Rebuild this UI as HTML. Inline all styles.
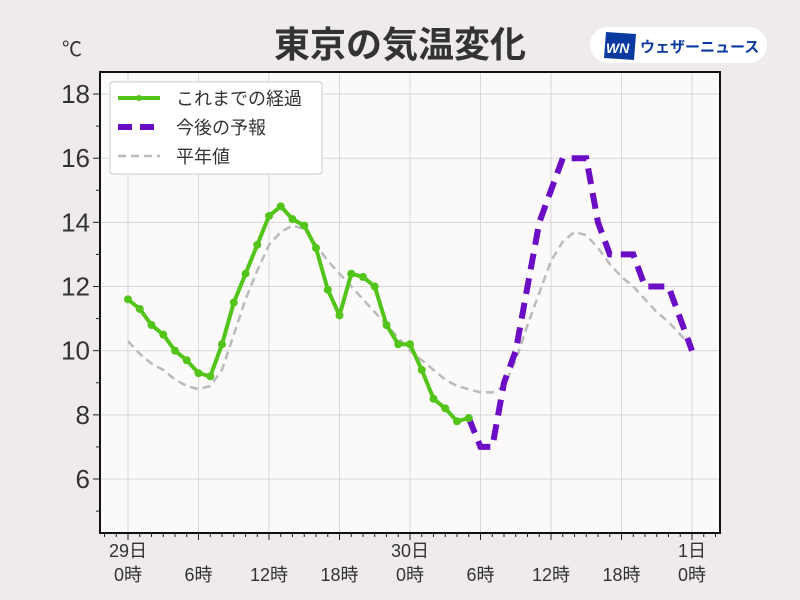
<!DOCTYPE html>
<html><head><meta charset="utf-8"><style>
body{margin:0;width:800px;height:600px;background:#eeebea;overflow:hidden}
svg{display:block}
text{font-family:"Liberation Sans","Noto Sans CJK JP",sans-serif;fill:#333}
</style></head><body>
<svg id="s" width="800" height="600" xmlns="http://www.w3.org/2000/svg">
<rect x="100" y="72" width="620" height="461" fill="#fbf9fa"/>
<g id="grid" stroke="#d8d8d8" stroke-width="1"></g>
<g id="ticks" stroke="#222" stroke-width="1"></g>
<g id="series"></g>
<rect x="100" y="72" width="620" height="461" fill="none" stroke="#111" stroke-width="2"/>
<text x="400" y="57" font-size="36" font-weight="bold" text-anchor="middle" fill="#333">東京の気温変化</text>
<text x="62" y="56" font-size="20">℃</text>
<rect x="590" y="27" width="177" height="36" rx="18" fill="#fff"/>
<polygon points="606,32 636,34 634,60 604,58" fill="#0a3aa0"/>
<text x="606" y="53" font-size="14" font-weight="bold" font-style="italic" style="fill:#fff">WN</text>
<text x="640" y="52" font-size="15" font-weight="bold" style="fill:#0a3aa0">ウェザーニュース</text>
<rect x="110" y="82" width="212" height="92" rx="3" fill="#fff" stroke="#ccc"/>
<line x1="118" y1="98" x2="160" y2="98" stroke="#52c41a" stroke-width="4"/>
<circle cx="139" cy="98" r="3" fill="#52c41a"/>
<line x1="118" y1="127" x2="160" y2="127" stroke="#6a0dc4" stroke-width="6" stroke-dasharray="14,8"/>
<line x1="118" y1="156" x2="160" y2="156" stroke="#bbb" stroke-width="2.5" stroke-dasharray="8,5"/>
<text x="176" y="105" font-size="18">これまでの経過</text>
<text x="176" y="134" font-size="18">今後の予報</text>
<text x="176" y="163" font-size="18">平年値</text>
<g id="labels" font-size="18"></g>
</svg>
<script>
const NS="http://www.w3.org/2000/svg";
const X=h=>128+h*11.75, Y=v=>479-(v-6)*32.08;
function el(p,t,a,txt){const e=document.createElementNS(NS,t);for(const k in a)e.setAttribute(k,a[k]);if(txt!==undefined)e.textContent=txt;document.getElementById(p).appendChild(e);return e;}
for(let v=6;v<=18;v+=2){el('grid','line',{x1:100,x2:720,y1:Y(v),y2:Y(v)});el('ticks','line',{x1:93,x2:100,y1:Y(v),y2:Y(v)});el('labels','text',{x:90,y:Y(v)+9,'text-anchor':'end','font-size':26},v);}
for(let v=5;v<=19;v+=2){if(Y(v)>72&&Y(v)<533)el('ticks','line',{x1:96,x2:100,y1:Y(v),y2:Y(v)});}
for(let h=-2;h<=50;h++){const x=X(h);if(x<100||x>720)continue;if(h%6==0){el('grid','line',{x1:x,x2:x,y1:72,y2:533});el('ticks','line',{x1:x,x2:x,y1:533,y2:540});}else el('ticks','line',{x1:x,x2:x,y1:533,y2:537});}
const lab=[[0,"29日","0時"],[6,"","6時"],[12,"","12時"],[18,"","18時"],[24,"30日","0時"],[30,"","6時"],[36,"","12時"],[42,"","18時"],[48,"1日","0時"]];
lab.forEach(([h,a,b])=>{if(a)el('labels','text',{x:X(h),y:557,'text-anchor':'middle'},a);el('labels','text',{x:X(h),y:581,'text-anchor':'middle'},b);});
const nrm=[10.3,9.9,9.6,9.4,9.1,8.9,8.8,8.9,9.4,10.5,11.6,12.5,13.3,13.7,13.9,13.8,13.3,12.8,12.4,12.0,11.6,11.2,10.8,10.4,10.0,9.7,9.4,9.1,8.9,8.8,8.7,8.7,8.9,9.7,10.8,11.8,12.8,13.4,13.7,13.6,13.2,12.7,12.3,12.0,11.6,11.2,10.9,10.5,10.1];
const obs=[11.6,11.3,10.8,10.5,10.0,9.7,9.3,9.2,10.2,11.5,12.4,13.3,14.2,14.5,14.1,13.9,13.2,11.9,11.1,12.4,12.3,12.0,10.8,10.2,10.2,9.4,8.5,8.2,7.8,7.9];
const fc=[[29,7.9],[30,7],[31,7],[32,9],[33,10],[34,12],[35,14],[36,15],[37,16],[38,16],[39,16],[40,14],[41,13],[42,13],[43,13],[44,12],[45,12],[46,12],[47,11],[48,10]];
const pts=a=>a.map(([h,v])=>X(h).toFixed(1)+","+Y(v).toFixed(1)).join(" ");
el('series','polyline',{points:pts(nrm.map((v,i)=>[i,v])),fill:'none',stroke:'#bbb','stroke-width':2.5,'stroke-dasharray':'8,5'});
el('series','polyline',{points:pts(fc),fill:'none',stroke:'#6a0dc4','stroke-width':6,'stroke-dasharray':'16,9'});
el('series','polyline',{points:pts(obs.map((v,i)=>[i,v])),fill:'none',stroke:'#52c41a','stroke-width':4,'stroke-linejoin':'round'});
obs.forEach((v,i)=>el('series','circle',{cx:X(i),cy:Y(v),r:4,fill:'#52c41a'}));
</script>
</body></html>
